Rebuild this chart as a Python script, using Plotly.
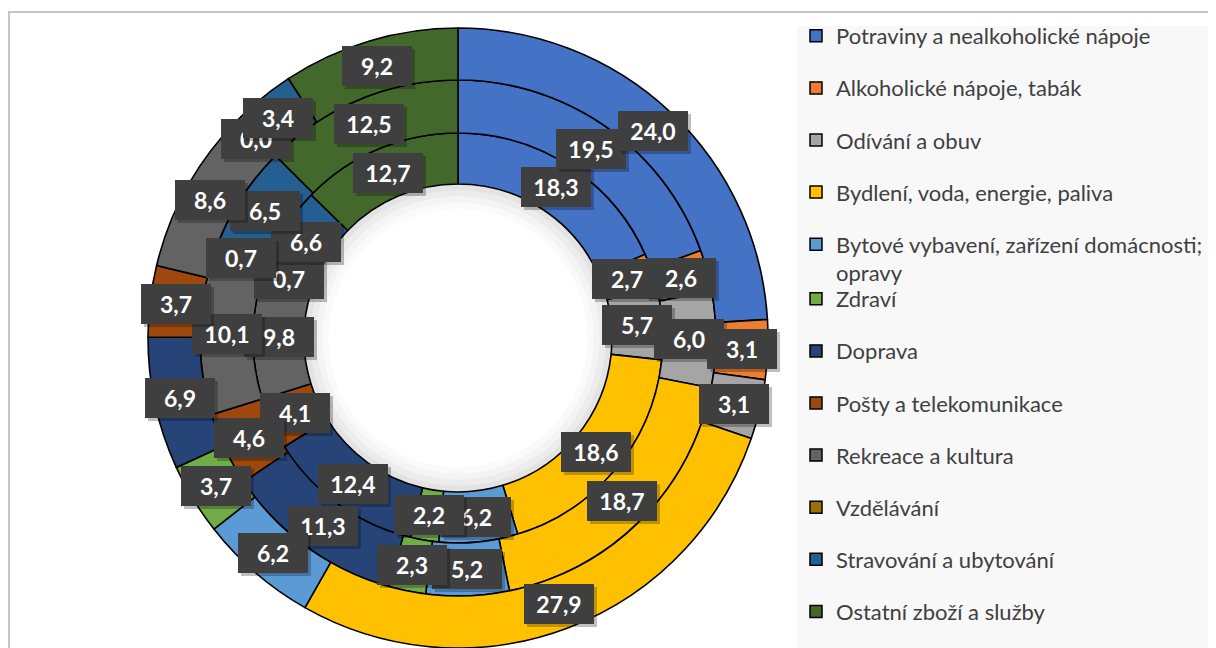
import math
import plotly.graph_objects as go

# ---------------- data ----------------
categories = [
    "Potraviny a nealkoholické nápoje",
    "Alkoholické nápoje, tabák",
    "Odívání a obuv",
    "Bydlení, voda, energie, paliva",
    "Bytové vybavení, zařízení domácnosti; opravy",
    "Zdraví",
    "Doprava",
    "Pošty a telekomunikace",
    "Rekreace a kultura",
    "Vzdělávání",
    "Stravování a ubytování",
    "Ostatní zboží a služby",
]
legend_names = [
    "Potraviny a nealkoholické nápoje",
    "Alkoholické nápoje, tabák",
    "Odívání a obuv",
    "Bydlení, voda, energie, paliva",
    "Bytové vybavení, zařízení domácnosti;<br>opravy",
    "Zdraví",
    "Doprava",
    "Pošty a telekomunikace",
    "Rekreace a kultura",
    "Vzdělávání",
    "Stravování a ubytování",
    "Ostatní zboží a služby",
]
inner_vals = [18.3, 2.7, 5.7, 18.6, 6.2, 2.2, 12.4, 4.1, 9.8, 0.7, 6.6, 12.7]
middle_vals = [19.5, 2.6, 6.0, 18.7, 5.2, 2.3, 11.3, 4.6, 10.1, 0.7, 6.5, 12.5]
outer_vals = [24.0, 3.1, 3.1, 27.9, 6.2, 3.7, 6.9, 3.7, 8.6, 0.0, 3.4, 9.2]

colors = ["#4472C4", "#ED7D31", "#A5A5A5", "#FFC000", "#5B9BD5", "#70AD47",
          "#264478", "#9E480E", "#636363", "#997300", "#255E91", "#43682B"]

# ---------------- layout constants ----------------
# page body has an 8px margin, so the figure is 8px smaller than the window
OFF = 8
W, H = 1216 - OFF, 648 - OFF
CX, CY = 458 - OFF, 338 - OFF
rings = [(inner_vals, 154, 205), (middle_vals, 205, 258), (outer_vals, 258, 310)]


def dom(r):
    return dict(x=[(CX - r) / W, (CX + r) / W],
                y=[max(0.0, (H - CY - r) / H), (H - CY + r) / H])


fig = go.Figure()

# soft inner shadow inside the hole
for hole_f, alpha in [(0.84, 0.02), (0.88, 0.025), (0.92, 0.03), (0.96, 0.035)]:
    fig.add_trace(go.Pie(
        values=[1], labels=["shadow"], hole=hole_f, sort=False, textinfo="none",
        showlegend=False, hoverinfo="skip",
        marker=dict(colors=[f"rgba(0,0,0,{alpha})"], line=dict(width=0)),
        domain=dom(154),
    ))

for vals, ri, ro in rings:
    fig.add_trace(go.Pie(
        labels=categories,
        values=vals,
        hole=ri / ro,
        sort=False,
        direction="clockwise",
        rotation=0,
        textinfo="none",
        showlegend=False,
        marker=dict(colors=colors, line=dict(color="#000000", width=1.6)),
        domain=dom(ro),
    ))

# legend entries (two legends to reproduce Excel's spacing)
for i, (name, col) in enumerate(zip(legend_names, colors)):
    fig.add_trace(go.Scatter(
        x=[None], y=[None], mode="markers", name=name,
        marker=dict(symbol="square", size=12, color=col,
                    line=dict(color="#000000", width=1.5)),
        legendgroup=f"g{i}",
        legend="legend" if i < 5 else "legend2",
        hoverinfo="skip",
    ))

# data labels at slice centres
annotations = []
for vals, ri, ro in rings:
    total = sum(vals)
    rm = (ri + ro) / 2
    cum = 0.0
    for v in vals:
        a = 2 * math.pi * (cum + v / 2) / total
        cum += v
        px = CX + rm * math.sin(a)
        py = CY - rm * math.cos(a)
        txt = f"{v:.1f}".replace(".", ",")
        common = dict(x=px / W, y=1 - py / H, xref="paper", yref="paper",
                      showarrow=False, xanchor="center", yanchor="middle",
                      width=66, height=36, borderpad=2, borderwidth=0)
        annotations.append(dict(text=txt, bgcolor="rgba(0,0,0,0.25)",
                                font=dict(family="Lato", size=23, color="rgba(0,0,0,0)"),
                                xshift=3, yshift=-3, **common))
        annotations.append(dict(text=f"<b>{txt}</b>", bgcolor="#3f3f3f",
                                font=dict(family="Lato", size=23, color="#ffffff"),
                                **common))

legend_font = dict(family="Lato", size=22, color="#404040")
fig.update_layout(
    width=W, height=H,
    margin=dict(l=0, r=0, t=0, b=0),
    paper_bgcolor="#ffffff",
    plot_bgcolor="rgba(0,0,0,0)",
    xaxis=dict(visible=False),
    yaxis=dict(visible=False),
    annotations=annotations,
    legend=dict(x=(796 - OFF) / W, y=1 - (15 - OFF) / H, xanchor="left", yanchor="top",
                font=legend_font, bgcolor="rgba(0,0,0,0)",
                traceorder="grouped", tracegroupgap=20.5, valign="top",
                itemclick=False, itemdoubleclick=False),
    legend2=dict(x=(796 - OFF) / W, y=1 - (278 - OFF) / H, xanchor="left", yanchor="top",
                 font=legend_font, bgcolor="rgba(0,0,0,0)",
                 traceorder="grouped", tracegroupgap=20.5, valign="top",
                 itemclick=False, itemdoubleclick=False),
    shapes=[
        dict(type="rect", xref="paper", yref="paper",
             x0=(797 - OFF) / W, x1=1.02, y0=-0.02, y1=1 - (26 - OFF) / H,
             fillcolor="#f8f8f8", line=dict(width=0), layer="below"),
        dict(type="rect", xref="paper", yref="paper",
             x0=1 / W, x1=1.05, y0=-0.05, y1=1 - (12 - OFF) / H,
             fillcolor="rgba(0,0,0,0)", line=dict(color="#c4c4c4", width=2),
             layer="above"),
    ],
)

fig.write_html("out.html")
